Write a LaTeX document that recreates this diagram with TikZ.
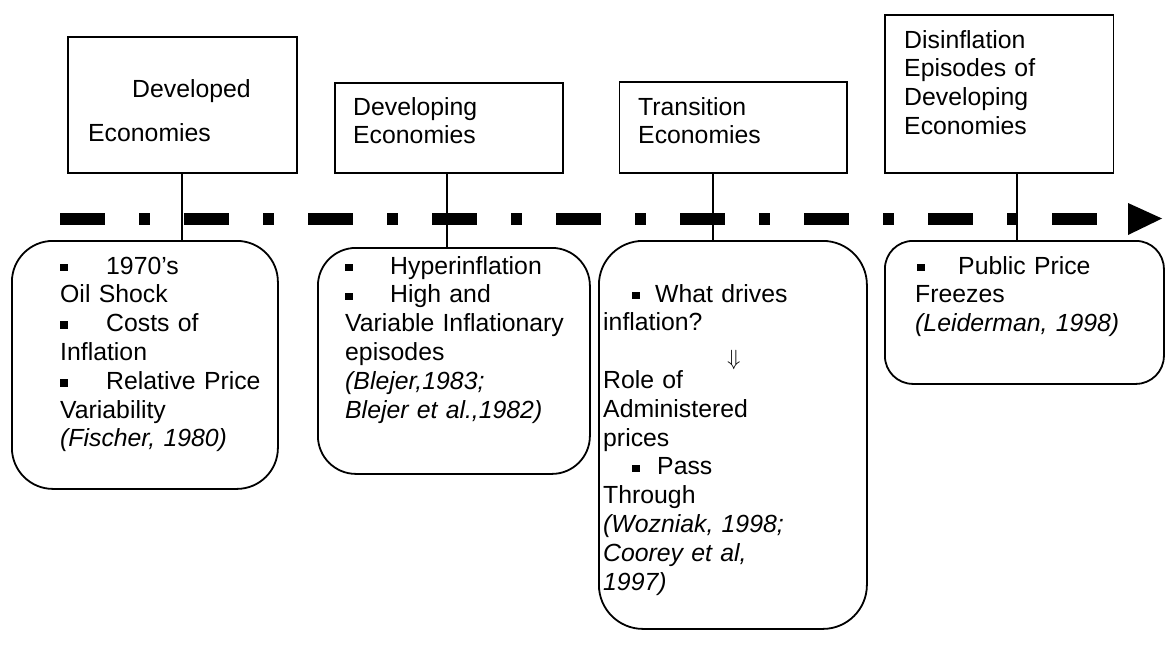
\documentclass[tikz,border=0pt]{standalone}
\usepackage{graphicx}
\usepackage{fontspec}
\setmainfont{Liberation Sans}
\newcommand\sqbul{\rule[2.7pt]{7.5pt}{7.5pt}}
\newcommand\bulbox[1]{\makebox[#1][l]{\sqbul}}
\begin{document}
\begin{tikzpicture}[x=1pt,y=-1pt,
  tl/.style={line width=12pt, dash pattern=on 45pt off 34pt on 11pt off 34pt},
  topbox/.style={draw, line width=1.8pt, inner sep=0pt, anchor=north west},
  rbox/.style={draw, line width=1.8pt, inner sep=0pt, anchor=north west, rounded corners=#1},
  txt/.style={anchor=base west, inner sep=0pt, align=left, text width=320pt, font=\fontsize{24.8}{28.8}\selectfont},
  link/.style={line width=1.5pt}]
\useasboundingbox (0,0) rectangle (1166,665);
\fill[white] (0,0) rectangle (1166,665);

% top boxes
\node[topbox, minimum width=229pt, minimum height=136pt] (t1) at (67,36) {};
\node[topbox, minimum width=228pt, minimum height=90pt] (t2) at (334,82) {};
\node[topbox, minimum width=227.5pt, minimum height=91pt] (t3) at (618.5,81) {};
\node[topbox, minimum width=228.5pt, minimum height=158pt] (t4) at (884,14) {};

\node[txt] (t1a) at (132,97) {Developed};
\node[txt] (t1b) at (88,141) {Economies};
\node[txt] (t2a) at (353,115) {Developing\\Economies};
\node[txt] (t3a) at (638,115) {Transition\\Economies};
\node[txt] (t4a) at (904,48) {Disinflation\\Episodes of\\Developing\\Economies};

% rounded boxes
\node[rbox=41pt, minimum width=266pt, minimum height=248pt] (rA) at (11,240) {};
\node[rbox=38pt, minimum width=272pt, minimum height=226pt] (rB) at (317,247) {};
\node[rbox=44pt, minimum width=268pt, minimum height=388pt] (rC) at (598,240) {};
\node[rbox=28pt, minimum width=279pt, minimum height=143pt] (rD) at (884,240) {};

\node[txt] (rAt) at (60,274) {\bulbox{46pt}1970’s\\
Oil Shock\\
\bulbox{46pt}Costs of\\
Inflation\\
\bulbox{46pt}Relative Price\\
Variability\\
\textit{(Fischer, 1980)}};

\node[txt] (rBt) at (345,274) {\bulbox{45pt}Hyperinflation\\
\bulbox{45pt}High and\\
Variable Inflationary\\
episodes\\
\textit{(Blejer,1983;}\\
\textit{Blejer et al.,1982)}};

\node[txt] (rCt) at (603,302) {\hspace*{29pt}\bulbox{23pt}What drives\\
inflation?\\
\hspace*{124pt}\raisebox{-6pt}[0pt][0pt]{\scalebox{2.2}{\fontsize{10}{10}\selectfont$\Downarrow$}}\\
Role of\\
Administered\\
prices\\
\hspace*{29pt}\bulbox{25pt}Pass\\
Through\\
\textit{(Wozniak, 1998;}\\
\textit{Coorey et al,}\\
\textit{1997)}};

\node[txt] (rDt) at (915,274) {\hspace*{2pt}\bulbox{41pt}Public Price\\
Freezes\\
\textit{(Leiderman, 1998)}};

% timeline
\coordinate (tls) at (60,218.5);
\coordinate (tle) at (1128,218.5);
\coordinate (tip) at (1162,218.5);
\draw[tl] (tls) -- (tle);
\fill (1128,203) -- (tip) -- (1128,235) -- cycle;

% connectors
\coordinate (c1) at (182,0);
\coordinate (c2) at (447,0);
\coordinate (c3) at (713,0);
\coordinate (c4) at (1017,0);
\draw[link] (t1.south -| c1) -- (rA.north -| c1);
\draw[link] (t2.south -| c2) -- (rB.north -| c2);
\draw[link] (t3.south -| c3) -- (rC.north -| c3);
\draw[link] (t4.south -| c4) -- (rD.north -| c4);
\end{tikzpicture}
\end{document}
